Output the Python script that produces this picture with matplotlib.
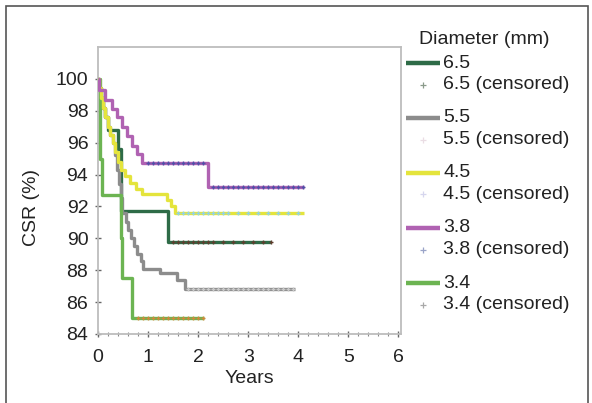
import matplotlib
matplotlib.use("Agg")
import matplotlib.pyplot as plt
from matplotlib.lines import Line2D
from matplotlib.patches import Rectangle
from matplotlib.ticker import MultipleLocator

plt.rcParams['font.family'] = ['Liberation Sans', 'DejaVu Sans']

# ---------------- data ----------------
groups = ["6.5", "5.5", "4.5", "3.8", "3.4"]
legend_title = "Diameter (mm)"

t65 = [0, 0.02, 0.06, 0.10, 0.14, 0.19, 0.40, 0.46, 1.40, 3.45]
s65 = [100, 99.4, 98.8, 98.2, 97.6, 96.8, 95.6, 91.7, 89.8, 89.8]
c65 = [1.5, 1.6, 1.7, 1.8, 1.9, 2.0, 2.1, 2.2, 2.3, 2.5, 2.7, 2.9, 3.1, 3.3, 3.45]

t55 = [0, 0.02, 0.06, 0.10, 0.14, 0.19, 0.24, 0.29, 0.33, 0.38, 0.42, 0.45, 0.48,
       0.55, 0.60, 0.66, 0.72, 0.78, 0.85, 0.90, 1.24, 1.58, 1.74, 3.94]
s55 = [100, 99.4, 98.8, 98.2, 97.6, 97.0, 96.5, 96.0, 95.2, 94.3, 93.4, 92.5, 91.6,
       91.0, 90.5, 90.0, 89.5, 89.0, 88.6, 88.1, 87.8, 87.4, 86.8, 86.8]
c55 = [1.8, 1.9, 2.0, 2.1, 2.2, 2.3, 2.4, 2.5, 2.6, 2.7, 2.8, 2.9, 3.0, 3.1,
       3.2, 3.3, 3.4, 3.5, 3.6, 3.7, 3.8, 3.9]

t45 = [0, 0.02, 0.06, 0.10, 0.14, 0.19, 0.24, 0.29, 0.34, 0.39, 0.45, 0.53,
       0.63, 0.75, 0.88, 1.38, 1.45, 1.53, 4.12]
s45 = [100, 99.4, 98.8, 98.2, 97.6, 97.0, 96.5, 96.0, 95.4, 94.8, 94.3, 93.9,
       93.5, 93.1, 92.8, 92.4, 92.0, 91.6, 91.6]
c45 = [1.6, 1.7, 1.8, 1.9, 2.0, 2.1, 2.2, 2.3, 2.4, 2.5, 2.6, 2.8, 3.0, 3.2,
       3.4, 3.6, 3.8, 4.0]

t38 = [0, 0.01, 0.13, 0.27, 0.37, 0.47, 0.57, 0.67, 0.77, 0.87, 2.20, 4.12]
s38 = [100, 99.3, 98.7, 98.1, 97.6, 97.0, 96.4, 95.8, 95.3, 94.7, 93.2, 93.2]
c38 = [1.0, 1.1, 1.2, 1.3, 1.4, 1.5, 1.6, 1.7, 1.8, 1.9, 2.0, 2.1, 2.3, 2.4,
       2.5, 2.6, 2.7, 2.8, 2.9, 3.0, 3.1, 3.2, 3.3, 3.4, 3.5, 3.6, 3.7, 3.8,
       3.9, 4.0, 4.1]

t34 = [0, 0.03, 0.07, 0.45, 0.48, 0.68, 2.12]
s34 = [100, 95.0, 92.7, 90.0, 87.5, 85.0, 85.0]
c34 = [0.8, 0.9, 1.0, 1.1, 1.2, 1.3, 1.4, 1.5, 1.6, 1.7, 1.8, 1.9, 2.0, 2.1]

times = [t65, t55, t45, t38, t34]
survs = [s65, s55, s45, s38, s34]
cens = [c65, c55, c45, c38, c34]

line_colors = ["#2e6b47", "#8c8c8c", "#e4e43c", "#b062b2", "#6cb452"]
cens_colors = ["#5e3e2e", "#c8c8c8", "#8fd3e6", "#5050a8", "#cf8a3c"]
leg_cens_colors = ["#8a9a8a", "#eadde4", "#d6d6ee", "#9aa4c8", "#a8a8a8"]

xticks = [0, 1, 2, 3, 4, 5, 6]
yticks = [84, 86, 88, 90, 92, 94, 96, 98, 100]

# ---------------- figure ----------------
W, H = 592, 403
FS = 14
fig = plt.figure(figsize=(W / 100, H / 100), dpi=100)
ax = fig.add_axes([98 / W, 1 - 334 / H, 303 / W, 287 / H])

def step_value(t, s, x):
    v = s[0]
    for ti, si in zip(t, s):
        if ti <= x:
            v = si
    return v

# draw order: 6.5 and 5.5 underneath
order = [0, 1, 4, 2, 3]
for i in order:
    ax.step(times[i], survs[i], where='post', color=line_colors[i], lw=2.4,
            solid_capstyle='butt', zorder=2 + order.index(i))
    cy = [step_value(times[i], survs[i], x) for x in cens[i]]
    ax.plot(cens[i], cy, linestyle='none', marker='+', ms=3.5, mew=1.0,
            color=cens_colors[i], zorder=8)

ax.set_xlim(0, 6.05)
ax.set_ylim(84, 102)
ax.set_xticks(xticks)
ax.set_yticks(yticks)
ax.xaxis.set_minor_locator(MultipleLocator(0.2))

for sp in ax.spines.values():
    sp.set_color("#bdbdbd")
    sp.set_linewidth(1.3)

ax.tick_params(axis='both', which='major', direction='inout', length=4,
               width=1, color="#666666", labelsize=FS, labelcolor="#222222")
ax.tick_params(axis='x', which='minor', direction='inout', length=3,
               width=0.8, color="#888888")
ax.tick_params(axis='x', which='major', pad=9)
ax.tick_params(axis='y', which='major', pad=5)

ax.set_xlabel("Years", fontsize=FS, color="#222222", labelpad=3)
ax.set_ylabel("CSR (%)", fontsize=FS, color="#222222")
ax.yaxis.set_label_coords(-0.19, 0.44)

# ---------------- manual legend ----------------
def fx(px):
    return px / W

def fy(py):
    return 1 - py / H

fig.text(fx(419), fy(40), legend_title, fontsize=FS, color="#222222",
         ha='left', va='center')
for k, g in enumerate(groups):
    yl = 63 + 55 * k
    yc = yl + 21.5
    fig.add_artist(Line2D([fx(406), fx(440)], [fy(yl), fy(yl)],
                          transform=fig.transFigure, color=line_colors[k],
                          lw=3.2, solid_capstyle='butt'))
    fig.text(fx(443), fy(yl), g, fontsize=FS, color="#222222",
             ha='left', va='center')
    fig.add_artist(Line2D([fx(423)], [fy(yc)], transform=fig.transFigure,
                          linestyle='none', marker='+', ms=4, mew=0.9,
                          color=leg_cens_colors[k]))
    fig.text(fx(443), fy(yc), g + " (censored)", fontsize=FS, color="#222222",
             ha='left', va='center')

# outer frame
fig.add_artist(Rectangle((fx(6), -0.01), fx(588) - fx(6), fy(6) + 0.01,
                         transform=fig.transFigure, fill=False,
                         edgecolor="#555555", lw=1.2))

fig.savefig("out.png", dpi=100)
